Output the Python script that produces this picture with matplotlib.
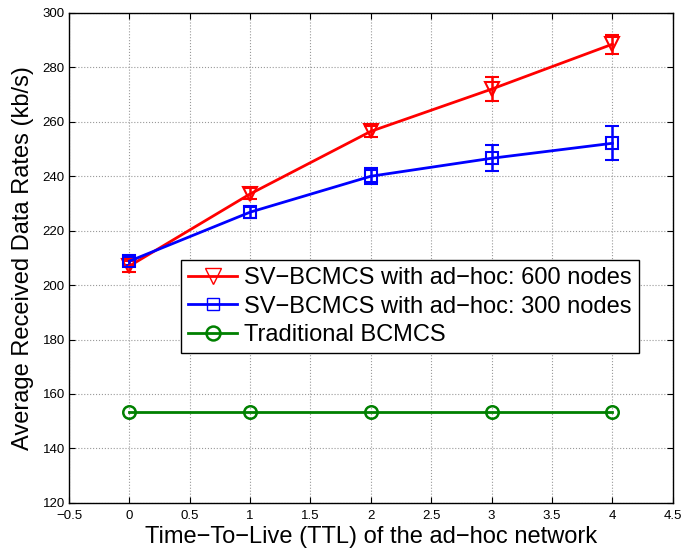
import matplotlib.pyplot as plt
from matplotlib.lines import Line2D
import numpy as np

plt.rcParams['font.family'] = ['Liberation Sans', 'DejaVu Sans']
plt.rcParams['axes.unicode_minus'] = True

ttl = [0, 1, 2, 3, 4]
rate_600 = [207.0, 233.5, 256.5, 272.0, 288.5]
err_600 = [2.0, 2.0, 2.0, 4.4, 3.5]
rate_300 = [208.8, 226.8, 240.0, 246.6, 252.1]
err_300 = [1.5, 2.0, 3.0, 4.8, 6.2]
rate_trad = [153.5, 153.5, 153.5, 153.5, 153.5]
labels = ["SV\u2212BCMCS with ad\u2212hoc: 600 nodes",
          "SV\u2212BCMCS with ad\u2212hoc: 300 nodes",
          "Traditional BCMCS"]

fig = plt.figure(figsize=(6.83, 5.49), dpi=100)
ax = fig.add_axes([0.101, 0.084, 0.884, 0.8925])

ax.errorbar(ttl, rate_600, yerr=err_600, color='#ff0000', lw=2, marker='v',
            ms=10, mfc='none', mew=1.5, capsize=5, elinewidth=1.8, capthick=1.8)
ax.errorbar(ttl, rate_300, yerr=err_300, color='#0000ff', lw=2, marker='s',
            ms=8, mfc='none', mew=1.5, capsize=5, elinewidth=1.8, capthick=1.8)
ax.plot(ttl, rate_trad, color='#008000', lw=2, marker='o', ms=9,
        mfc='none', mew=1.8)

ax.set_xlim(-0.5, 4.5)
ax.set_ylim(120, 300)
ax.set_xticks(np.arange(-0.5, 4.51, 0.5))
ax.set_xticklabels(["\u22120.5", "0", "0.5", "1", "1.5", "2", "2.5", "3", "3.5", "4", "4.5"])
ax.set_yticks(np.arange(120, 301, 20))
ax.tick_params(direction='in', top=True, right=True, labelsize=9.5, length=4)
ax.tick_params(axis='x', pad=5)
ax.tick_params(axis='y', pad=3)
ax.grid(True, linestyle=':', color='#999999', linewidth=0.8)
for s in ax.spines.values():
    s.set_linewidth(1.0)

ax.set_xlabel("Time\u2212To\u2212Live (TTL) of the ad\u2212hoc network", fontsize=17, labelpad=3)
ax.set_ylabel("Average Received Data Rates (kb/s)", fontsize=17, labelpad=6)

handles = [
    Line2D([], [], color='#ff0000', lw=2, marker='v', ms=12, mfc='none', mew=1.0),
    Line2D([], [], color='#0000ff', lw=2, marker='s', ms=9, mfc='none', mew=1.0),
    Line2D([], [], color='#008000', lw=2, marker='o', ms=10, mfc='none', mew=1.8),
]
leg = ax.legend(handles, labels, loc='upper left', bbox_to_anchor=(0.185, 0.496),
                fontsize=17, fancybox=False, edgecolor='black', framealpha=1,
                borderpad=0.3, labelspacing=0.28, handlelength=2.1,
                handletextpad=0.3, borderaxespad=0)
leg.get_frame().set_linewidth(1.0)

plt.savefig("out.png")
